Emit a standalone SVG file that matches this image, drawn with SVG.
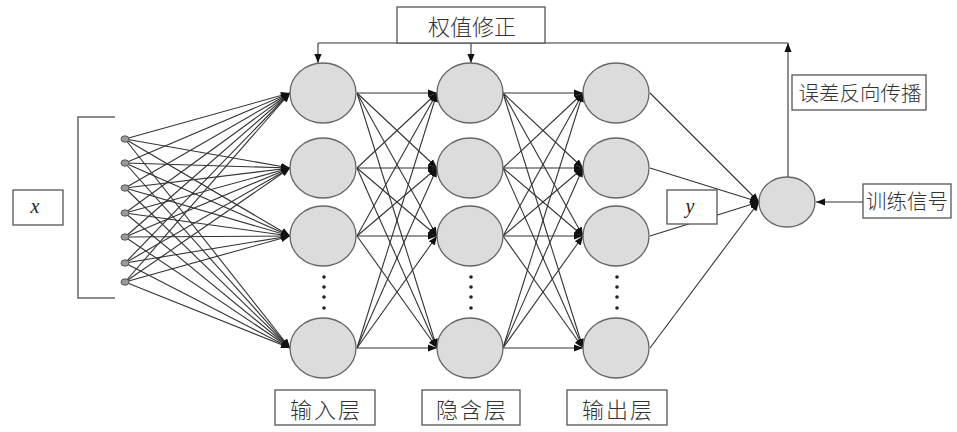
<svg xmlns="http://www.w3.org/2000/svg" width="957" height="432" viewBox="0 0 957 432">
<style>
.n{fill:#dcdcdc;stroke:#666;stroke-width:1.3}
.c{stroke:#333;stroke-width:1.1;fill:none}
.b{fill:#fff;stroke:#555;stroke-width:1.3}
.t{font-family:"Noto Sans CJK SC","Noto Sans CJK JP",sans-serif;font-size:22px;fill:#333;text-anchor:middle;dominant-baseline:central;font-weight:300}
.r{font-size:20.5px}
.s{letter-spacing:2px}
.i{font-family:"Liberation Serif",serif;font-style:italic;font-size:20px;fill:#222;text-anchor:middle;dominant-baseline:central}
.d{fill:#222}
.in{fill:#999;stroke:#555;stroke-width:1}
</style>
<defs>
<marker id="a" viewBox="0 0 10 10" refX="10" refY="5" markerWidth="9" markerHeight="9" markerUnits="userSpaceOnUse" orient="auto">
<path d="M0,1 L10,5 L0,9 Z" fill="#111"/>
</marker>
</defs>
<g id="connectors">
<g id="in-to-l1" class="c" marker-end="url(#a)">
<line x1="125" y1="139" x2="290" y2="93"/><line x1="125" y1="139" x2="290" y2="168"/><line x1="125" y1="139" x2="290" y2="236"/><line x1="125" y1="139" x2="290" y2="348"/>
<line x1="125" y1="163" x2="290" y2="93"/><line x1="125" y1="163" x2="290" y2="168"/><line x1="125" y1="163" x2="290" y2="236"/><line x1="125" y1="163" x2="290" y2="348"/>
<line x1="125" y1="188" x2="290" y2="93"/><line x1="125" y1="188" x2="290" y2="168"/><line x1="125" y1="188" x2="290" y2="236"/><line x1="125" y1="188" x2="290" y2="348"/>
<line x1="125" y1="213" x2="290" y2="93"/><line x1="125" y1="213" x2="290" y2="168"/><line x1="125" y1="213" x2="290" y2="236"/><line x1="125" y1="213" x2="290" y2="348"/>
<line x1="125" y1="237" x2="290" y2="93"/><line x1="125" y1="237" x2="290" y2="168"/><line x1="125" y1="237" x2="290" y2="236"/><line x1="125" y1="237" x2="290" y2="348"/>
<line x1="125" y1="263" x2="290" y2="93"/><line x1="125" y1="263" x2="290" y2="168"/><line x1="125" y1="263" x2="290" y2="236"/><line x1="125" y1="263" x2="290" y2="348"/>
<line x1="125" y1="282" x2="290" y2="93"/><line x1="125" y1="282" x2="290" y2="168"/><line x1="125" y1="282" x2="290" y2="236"/><line x1="125" y1="282" x2="290" y2="348"/>
</g>
<g id="l1-to-l2" class="c" marker-end="url(#a)">
<line x1="357" y1="93" x2="437" y2="93"/><line x1="357" y1="93" x2="437" y2="168"/><line x1="357" y1="93" x2="437" y2="236"/><line x1="357" y1="93" x2="437" y2="348"/>
<line x1="357" y1="168" x2="437" y2="93"/><line x1="357" y1="168" x2="437" y2="168"/><line x1="357" y1="168" x2="437" y2="236"/><line x1="357" y1="168" x2="437" y2="348"/>
<line x1="357" y1="236" x2="437" y2="93"/><line x1="357" y1="236" x2="437" y2="168"/><line x1="357" y1="236" x2="437" y2="236"/><line x1="357" y1="236" x2="437" y2="348"/>
<line x1="357" y1="348" x2="437" y2="93"/><line x1="357" y1="348" x2="437" y2="168"/><line x1="357" y1="348" x2="437" y2="236"/><line x1="357" y1="348" x2="437" y2="348"/>
</g>
<g id="l2-to-l3" class="c" marker-end="url(#a)">
<line x1="503" y1="93" x2="583" y2="93"/><line x1="503" y1="93" x2="583" y2="168"/><line x1="503" y1="93" x2="583" y2="236"/><line x1="503" y1="93" x2="583" y2="348"/>
<line x1="503" y1="168" x2="583" y2="93"/><line x1="503" y1="168" x2="583" y2="168"/><line x1="503" y1="168" x2="583" y2="236"/><line x1="503" y1="168" x2="583" y2="348"/>
<line x1="503" y1="236" x2="583" y2="93"/><line x1="503" y1="236" x2="583" y2="168"/><line x1="503" y1="236" x2="583" y2="236"/><line x1="503" y1="236" x2="583" y2="348"/>
<line x1="503" y1="348" x2="583" y2="93"/><line x1="503" y1="348" x2="583" y2="168"/><line x1="503" y1="348" x2="583" y2="236"/><line x1="503" y1="348" x2="583" y2="348"/>
</g>
<g id="l3-to-err" class="c" marker-end="url(#a)">
<line x1="650" y1="93" x2="759" y2="202"/><line x1="650" y1="168" x2="759" y2="202"/><line x1="650" y1="236" x2="759" y2="202"/><line x1="650" y1="348" x2="759" y2="202"/>
</g>
<line class="c" x1="863" y1="202" x2="816" y2="202" marker-end="url(#a)"/>
<line class="c" x1="788" y1="177" x2="788" y2="43" marker-end="url(#a)"/>
<line class="c" x1="318" y1="43" x2="788" y2="43"/>
<line class="c" x1="318" y1="43" x2="318" y2="63" marker-end="url(#a)"/>
<line class="c" x1="471" y1="43" x2="471" y2="63" marker-end="url(#a)"/>
</g>
<g id="bracket"><path d="M115,117 H78 V298 H115" fill="none" stroke="#666" stroke-width="1.5"/></g>
<g id="inputs">
<ellipse class="in" cx="125" cy="139" rx="4" ry="3.2"/><ellipse class="in" cx="125" cy="163" rx="4" ry="3.2"/><ellipse class="in" cx="125" cy="188" rx="4" ry="3.2"/><ellipse class="in" cx="125" cy="213" rx="4" ry="3.2"/><ellipse class="in" cx="125" cy="237" rx="4" ry="3.2"/><ellipse class="in" cx="125" cy="263" rx="4" ry="3.2"/><ellipse class="in" cx="125" cy="282" rx="4" ry="3.2"/>
</g>
<g id="x-box"><rect class="b" x="13" y="190" width="50" height="35"/><text class="i" x="35" y="206">x</text></g>
<g id="input-layer">
<ellipse class="n" cx="323" cy="93" rx="33" ry="30"/><ellipse class="n" cx="323" cy="168" rx="33" ry="30"/><ellipse class="n" cx="323" cy="236" rx="33" ry="30"/><ellipse class="n" cx="323" cy="348" rx="33" ry="30"/>
<circle class="d" cx="324" cy="277" r="1.8"/><circle class="d" cx="324" cy="287" r="1.8"/><circle class="d" cx="324" cy="297" r="1.8"/><circle class="d" cx="324" cy="308" r="1.8"/>
</g>
<g id="hidden-layer">
<ellipse class="n" cx="470" cy="93" rx="33" ry="30"/><ellipse class="n" cx="470" cy="168" rx="33" ry="30"/><ellipse class="n" cx="470" cy="236" rx="33" ry="30"/><ellipse class="n" cx="470" cy="348" rx="33" ry="30"/>
<circle class="d" cx="471" cy="277" r="1.8"/><circle class="d" cx="471" cy="287" r="1.8"/><circle class="d" cx="471" cy="297" r="1.8"/><circle class="d" cx="471" cy="308" r="1.8"/>
</g>
<g id="output-layer">
<ellipse class="n" cx="616" cy="93" rx="33" ry="30"/><ellipse class="n" cx="616" cy="168" rx="33" ry="30"/><ellipse class="n" cx="616" cy="236" rx="33" ry="30"/><ellipse class="n" cx="616" cy="348" rx="33" ry="30"/>
<circle class="d" cx="617" cy="277" r="1.8"/><circle class="d" cx="617" cy="287" r="1.8"/><circle class="d" cx="617" cy="297" r="1.8"/><circle class="d" cx="617" cy="308" r="1.8"/>
</g>
<g id="error-node"><ellipse class="n" cx="787" cy="202" rx="28" ry="25"/></g>
<g id="y-box"><rect class="b" x="667" y="190" width="50" height="34"/><text class="i" x="690" y="206">y</text></g>
<g id="weight-box"><rect class="b" x="397" y="7" width="148" height="36"/><text class="t" x="472" y="25">权值修正</text></g>
<g id="bp-box"><rect class="b" x="792" y="75" width="134" height="35"/><text class="t r" x="860" y="92">误差反向传播</text></g>
<g id="train-box"><rect class="b" x="863" y="184" width="88" height="34"/><text class="t r" x="907" y="200">训练信号</text></g>
<g id="label-input"><rect class="b" x="275" y="390" width="100" height="35"/><text class="t s" x="326" y="408">输入层</text></g>
<g id="label-hidden"><rect class="b" x="422" y="390" width="98" height="35"/><text class="t s" x="472" y="408">隐含层</text></g>
<g id="label-output"><rect class="b" x="567" y="390" width="100" height="35"/><text class="t s" x="618" y="408">输出层</text></g>
</svg>
